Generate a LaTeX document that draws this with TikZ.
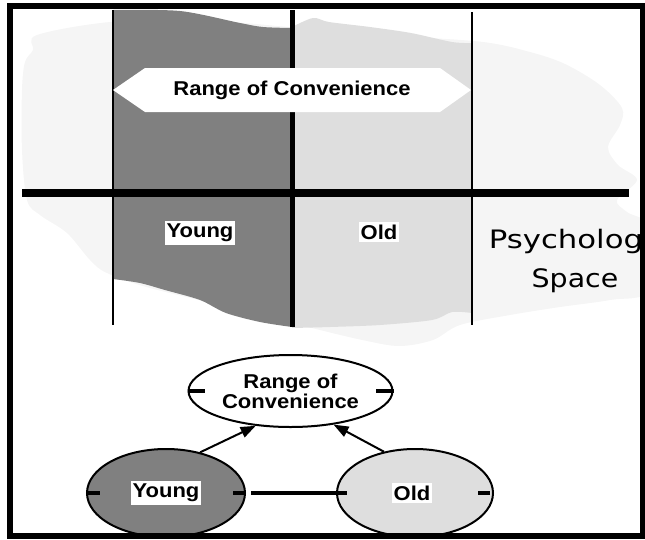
\documentclass[tikz,border=0pt]{standalone}
\usepackage{fontspec}
\setmainfont{Liberation Sans}
\newfontfamily\spacefont{DejaVu Sans}
\usetikzlibrary{shapes.geometric,arrows.meta}

\definecolor{youngfill}{HTML}{808080}
\definecolor{oldfill}{HTML}{DEDEDE}
\definecolor{spacefill}{HTML}{F5F5F5}

% slightly widened lettering
\newcommand\widetxt[1]{\scalebox{1.1}[1]{#1}}
\newcommand\widerspace[2]{\scalebox{#1}[1]{#2}}

\begin{document}
\begin{tikzpicture}[x=1pt,y=-1pt,
  boldlabel/.style={font=\bfseries\fontsize{20}{18}\selectfont, inner sep=0pt},
  whitelabel/.style={boldlabel, fill=white, inner xsep=2pt, inner ysep=3pt},
  construct/.style={ellipse, draw=black, line width=2pt, inner sep=0pt},
  poletick/.style={line width=4pt},
  implies/.style={line width=2pt, -{Triangle[length=15pt,width=11pt]}}
]
\useasboundingbox (0,0) rectangle (645,539);

\begin{scope}
\clip (13,9) rectangle (640,532);

% the psychological space behind the grid
\fill[spacefill] plot[smooth cycle, tension=0.55] coordinates {
  (37,35) (110,22) (200,20) (300,28) (400,36) (483,42) (530,52)
  (565,64) (600,85) (622,108) (620,125) (608,147) (618,165) (637,180)
  (617,200) (627,212) (650,228) (650,290) (610,300) (560,307)
  (510,315) (460,325) (433,340) (400,346) (367,341) (320,330)
  (250,312) (150,288) (107,273) (90,260) (67,233) (40,215) (27,200)
  (22,150) (22,90) (25,62) (33,50) };

% range of the construct "Young"
\fill[youngfill] (113,10)
  -- plot[smooth] coordinates {(113,10) (180,11) (240,23) (263,27) (292,28)}
  -- plot[smooth] coordinates {(292,327) (260,322) (226,313) (200,300)
                               (165,290) (140,283) (113,279)}
  -- cycle;

% range of the construct "Old"
\fill[oldfill] (292,27)
  -- plot[smooth] coordinates {(292,27) (313,18) (329,22) (370,27)
                               (411,33) (452,42) (472,43)}
  -- plot[smooth] coordinates {(472,313) (452,312) (432,320) (380,325)
                               (330,327) (292,328)}
  -- cycle;

% grid lines
\draw[line width=2pt] (113,10) -- (113,325);
\draw[line width=5pt] (292,10) -- (292,327);
\draw[line width=2pt] (472,12) -- (472,325);
\draw[line width=8pt] (22,192.5) -- (629,192.5);

% range of convenience banner
\fill[white] (113,90) -- (145,68) -- (440,68) -- (471,90)
  -- (440,112) -- (145,112) -- cycle;
\node[boldlabel] (banner) at (292,90) {\widetxt{Range of Convenience}};

\node[whitelabel] (gridyoung) at (200,232.5) {\widetxt{Young}};
\node[whitelabel] (gridold) at (379,232) {\widetxt{Old}};

% base anchor of a two-line node sits on the last line
\node[font=\spacefont\fontsize{25.4}{39}\selectfont, align=center, inner sep=0pt,
      anchor=base] (space) at (575,287)
  {\widerspace{1.21}{Psychology}\\\widerspace{1.12}{Space}};
\end{scope}

% construct diagram
\node[construct, fill=white, minimum width=204pt, minimum height=72pt]
  (range) at (290.5,391) {};
\node[boldlabel, align=center, font=\bfseries\fontsize{20}{17.5}\selectfont]
  (rangetext) at (range.center) {\widetxt{Range of}\\\widetxt{Convenience}};
\node[construct, fill=youngfill, minimum width=158pt, minimum height=88pt]
  (young) at (166,493) {};
\node[construct, fill=oldfill, minimum width=156pt, minimum height=88pt]
  (old) at (415,493) {};
\node[whitelabel] (younglabel) at (young.center) {\widetxt{Young}};
\node[whitelabel] (oldlabel) at ([xshift=-3pt]old.center) {\widetxt{Old}};

% pole marks
\draw[poletick] (range.west) -- ++(17,0);
\draw[poletick] (range.east) -- ++(-18,0);
\draw[poletick] ([xshift=2pt]young.west) -- ++(12,0);
\draw[poletick] ([xshift=-2pt]young.east) -- ++(-11,0);
\draw[poletick] (old.west) -- ++(11,0);
\draw[poletick] ([xshift=-4pt]old.east) -- ++(-12,0);

% relations
\draw[poletick] ([xshift=5pt]young.east) -- (old.west);
\draw[implies] (young.50) -- (range.225);
\draw[implies] (old.127) -- (range.322);

% frame
\draw[line width=6pt] (10,6) rectangle (643,535.5);
\end{tikzpicture}
\end{document}
